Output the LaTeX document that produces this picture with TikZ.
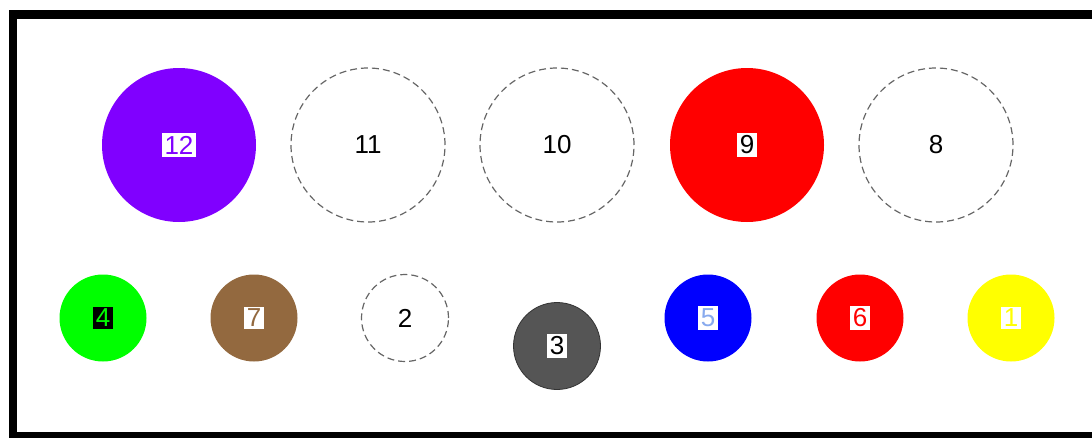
\documentclass[tikz,border=0pt]{standalone}
\usepackage{fontspec}
\setmainfont{Liberation Sans}
\begin{document}
\begin{tikzpicture}[x=1pt,y=-1pt,
  big/.style={circle,minimum size=154pt,inner sep=0pt},
  small/.style={circle,minimum size=87pt,inner sep=0pt},
  empty/.style={draw=black!60,line width=1.2pt,dash pattern=on 7pt off 4pt},
  txt/.style={font=\fontsize{26}{26}\selectfont},
  lbl/.style={txt,inner sep=2.5pt,fill=white}]
\useasboundingbox (0,0) rectangle (1092,437);
\begin{scope}
\clip (0,0) rectangle (1092,437);
\draw[line width=8.5pt] (13,14.5) rectangle (1110,436);
\end{scope}
\definecolor{cpurple}{HTML}{8000FF}
\definecolor{cbrown}{HTML}{93693F}
\definecolor{cgray}{HTML}{555555}
\definecolor{clblue}{HTML}{88AAEE}
\definecolor{cyellow}{HTML}{FFFF00}
\definecolor{cgreen}{HTML}{00FF00}
\definecolor{cred}{HTML}{FF0000}
\definecolor{cblue}{HTML}{0000FF}
% row 1
\node[big,fill=cpurple] (c12) at (179,145) {};
\node[lbl,text=cpurple] (l12) at (c12) {12};
\node[big,empty] (c11) at (368,145) {};
\node[txt] (l11) at (c11) {11};
\node[big,empty] (c10) at (557,145) {};
\node[txt] (l10) at (c10) {10};
\node[big,fill=cred] (c9) at (747,145) {};
\node[lbl,text=black] (l9) at (c9) {9};
\node[big,empty] (c8) at (936,145) {};
\node[txt] (l8) at (c8) {8};
% row 2
\node[small,fill=cgreen] (c4) at (103,318) {};
\node[lbl,fill=black,text=cgreen] (l4) at (c4) {4};
\node[small,fill=cbrown] (c7) at (254,318) {};
\node[lbl,text=cbrown] (l7) at (c7) {7};
\node[small,empty] (c2) at (405,318) {};
\node[txt] (l2) at (c2) {2};
\node[small,fill=cgray,draw=black!80,line width=0.8pt] (c3) at (557,346) {};
\node[lbl,text=black] (l3) at (c3) {3};
\node[small,fill=cblue] (c5) at (708,318) {};
\node[lbl,text=clblue] (l5) at (c5) {5};
\node[small,fill=cred] (c6) at (860,318) {};
\node[lbl,text=cred] (l6) at (c6) {6};
\node[small,fill=cyellow] (c1) at (1011,318) {};
\node[lbl,text=cyellow] (l1) at (c1) {1};
\end{tikzpicture}
\end{document}
